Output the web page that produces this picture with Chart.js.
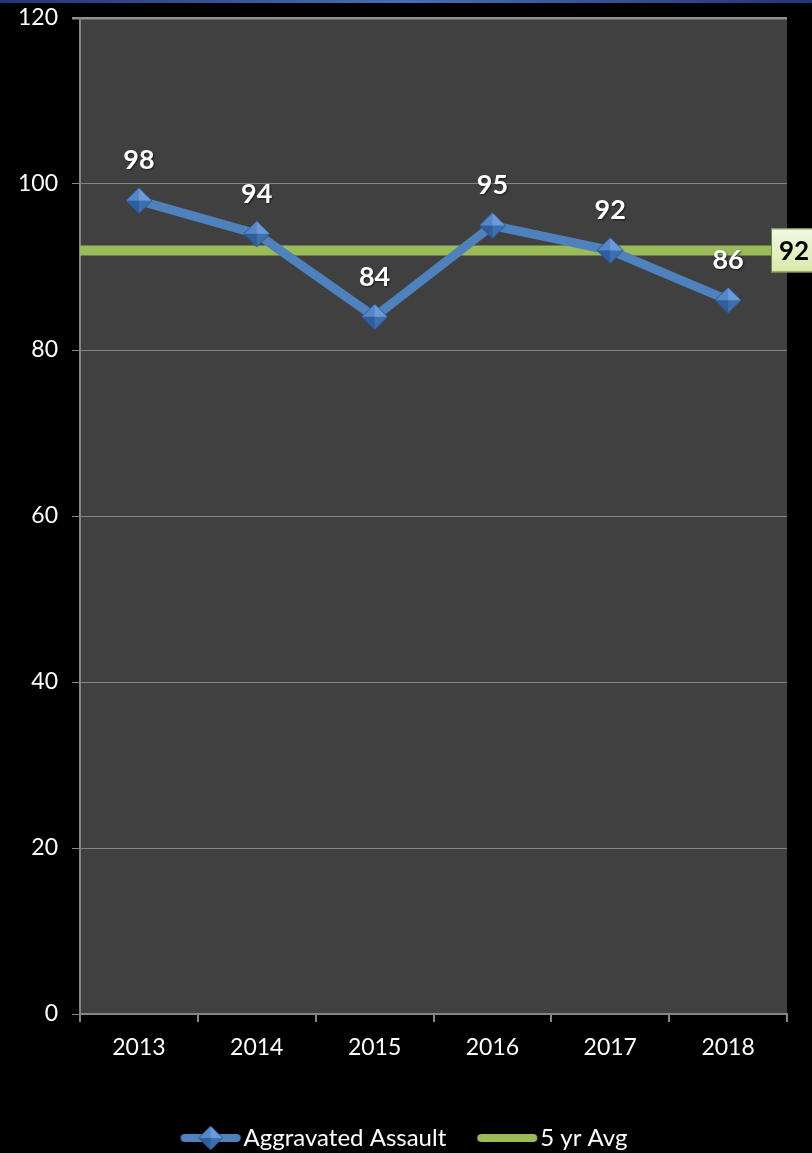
<!DOCTYPE html>
<html>
<head>
<meta charset="utf-8">
<script src="https://cdn.jsdelivr.net/npm/chart.js@4"></script>
<style>
  html, body { margin: 0; padding: 0; background: #000; overflow: hidden; }
  #topbar { position: absolute; left: 0; top: 0; width: 812px; height: 3px;
    background: linear-gradient(to right, #22347a, #4a6cb2 50%, #22347a); }
  #wrap { width: 812px; height: 1153px; }
</style>
</head>
<body>
<div id="topbar"></div>
<div id="wrap"><canvas id="trend-assault" width="812" height="1153"></canvas></div>
<script>
const years = ['2013', '2014', '2015', '2016', '2017', '2018'];
const aggravatedAssault = [98, 94, 84, 95, 92, 86];
const fiveYrAvg = 92;
const yTicks = [0, 20, 40, 60, 80, 100, 120];

const blue = '#4F81BD';
const green = '#9BBB59';

// bevelled diamond marker (4 shaded facets around the centre)
function diamond(r) {
  const c = document.createElement('canvas');
  c.width = c.height = r * 2 + 2;
  const ctx = c.getContext('2d');
  const m = r + 1;
  const pts = [[m, 1], [m + r, m], [m, m + r], [1, m]];
  const cols = ['#6A9BD8', '#3E70B0', '#2E5E9C', '#5587C8'];
  for (let i = 0; i < 4; i++) {
    const a = pts[i], b = pts[(i + 1) % 4];
    ctx.fillStyle = cols[i];
    ctx.beginPath();
    ctx.moveTo(a[0], a[1]);
    ctx.lineTo(b[0], b[1]);
    ctx.lineTo(m, m);
    ctx.closePath();
    ctx.fill();
  }
  ctx.strokeStyle = '#2C5590';
  ctx.lineWidth = 1;
  ctx.beginPath();
  pts.forEach((p, i) => (i ? ctx.lineTo(p[0], p[1]) : ctx.moveTo(p[0], p[1])));
  ctx.closePath();
  ctx.stroke();
  return c;
}

// legend swatch: line + diamond, like the office chart
function legendSwatch(color, withMarker) {
  const c = document.createElement('canvas');
  c.width = 62;
  c.height = 26;
  const ctx = c.getContext('2d');
  ctx.strokeStyle = color;
  ctx.lineWidth = 8;
  ctx.lineCap = 'round';
  ctx.beginPath();
  ctx.moveTo(5, 13);
  ctx.lineTo(57, 13);
  ctx.stroke();
  if (withMarker) {
    ctx.drawImage(diamond(12), 31 - 13, 0);
  }
  return c;
}

const plotBg = {
  id: 'plotBg',
  beforeDraw(chart) {
    const { ctx, chartArea: a } = chart;
    ctx.save();
    ctx.fillStyle = '#404040';
    ctx.fillRect(a.left, a.top, a.right - a.left, a.bottom - a.top);
    ctx.restore();
  },
};

// 5 yr avg: full width line + label box at the right end
const avgLine = {
  id: 'avgLine',
  beforeDatasetsDraw(chart) {
    const { ctx, chartArea: a, scales } = chart;
    const y = scales.y.getPixelForValue(fiveYrAvg);
    ctx.save();
    ctx.strokeStyle = green;
    ctx.lineWidth = 10;
    ctx.beginPath();
    ctx.moveTo(a.left, y);
    ctx.lineTo(a.right - 10, y);
    ctx.stroke();

    const bx = 771, bw = 46, bh = 44;
    const g = ctx.createLinearGradient(0, y - bh / 2, 0, y + bh / 2);
    g.addColorStop(0, '#F2F8E4');
    g.addColorStop(1, '#D7E9A8');
    ctx.fillStyle = g;
    ctx.fillRect(bx, y - bh / 2, bw, bh);
    ctx.strokeStyle = '#6F8A3A';
    ctx.lineWidth = 1;
    ctx.strokeRect(bx + 0.5, y - bh / 2 + 0.5, bw, bh - 1);
    ctx.fillStyle = '#000';
    ctx.font = 'bold 26px Lato';
    ctx.textAlign = 'center';
    ctx.textBaseline = 'middle';
    ctx.fillText(String(fiveYrAvg), bx + 23, y + 1);
    ctx.restore();
  },
};

const pointLabels = {
  id: 'pointLabels',
  afterDatasetsDraw(chart) {
    const { ctx } = chart;
    const meta = chart.getDatasetMeta(0);
    ctx.save();
    ctx.font = 'bold 27px Lato';
    ctx.fillStyle = '#fff';
    ctx.textAlign = 'center';
    ctx.textBaseline = 'middle';
    ctx.shadowColor = 'rgba(0,0,0,0.6)';
    ctx.shadowOffsetX = 1;
    ctx.shadowOffsetY = 1;
    ctx.shadowBlur = 2;
    meta.data.forEach((pt, i) => {
      ctx.fillText(String(aggravatedAssault[i]), pt.x, pt.y - 40);
    });
    ctx.restore();
  },
};

Chart.defaults.font.family = 'Lato';
Chart.defaults.color = '#fff';

new Chart(document.getElementById('trend-assault'), {
  type: 'line',
  data: {
    labels: years,
    datasets: [
      {
        label: 'Aggravated Assault',
        data: aggravatedAssault,
        borderColor: blue,
        borderWidth: 9,
        backgroundColor: '#4A7CC0',
        pointStyle: diamond(13),
        pointRadius: 13,
        pointBorderWidth: 0,
        pointHoverRadius: 13,
        tension: 0,
      },
      {
        label: '5 yr Avg',
        data: [],
        borderColor: green,
        backgroundColor: green,
      },
    ],
  },
  options: {
    responsive: false,
    animation: false,
    layout: { autoPadding: false, padding: { top: 18, right: 0, left: 5, bottom: -7 } },
    scales: {
      x: {
        offset: true,
        grid: { drawOnChartArea: false, offset: true, color: '#858585', tickLength: 8, lineWidth: 2 },
        border: { color: '#858585', width: 2 },
        ticks: { font: { size: 23 }, color: '#fff', padding: 12 },
        afterFit(scale) { scale.height = 72; },
      },
      y: {
        min: 0,
        max: 120,
        afterBuildTicks(scale) { scale.ticks = yTicks.map(v => ({ value: v })); },
        grid: {
          color: ctx => (ctx.tick && ctx.tick.value === 120 ? '#8f8f8f' : '#858585'),
          lineWidth: ctx => (ctx.tick && ctx.tick.value === 120 ? 2.5 : 1),
          tickLength: 8,
        },
        border: { color: '#858585', width: 2 },
        ticks: { font: { size: 23 }, color: '#fff', padding: 14 },
        afterFit(scale) {
          scale.width = 75;
          scale.paddingTop = 0;
          scale.paddingBottom = 0;
        },
      },
      // empty right gutter so the plot ends where the original does
      gutter: {
        position: 'right',
        display: true,
        grid: { display: false },
        border: { display: false },
        ticks: { display: false },
        afterFit(scale) {
          scale.width = 25;
          scale.paddingTop = 0;
          scale.paddingBottom = 0;
        },
      },
    },
    plugins: {
      legend: {
        position: 'bottom',
        labels: {
          color: '#fff',
          font: { size: 24 },
          usePointStyle: true,
          pointStyleWidth: 42,
          padding: 40,
          generateLabels() {
            return [
              { text: 'Aggravated Assault', pointStyle: legendSwatch(blue, true), fontColor: '#fff', lineWidth: 0, datasetIndex: 0 },
              { text: '5 yr Avg', pointStyle: legendSwatch(green, false), fontColor: '#fff', lineWidth: 0, datasetIndex: 1 },
            ];
          },
        },
      },
      tooltip: { enabled: false },
    },
  },
  plugins: [plotBg, avgLine, pointLabels],
});
</script>
</body>
</html>
